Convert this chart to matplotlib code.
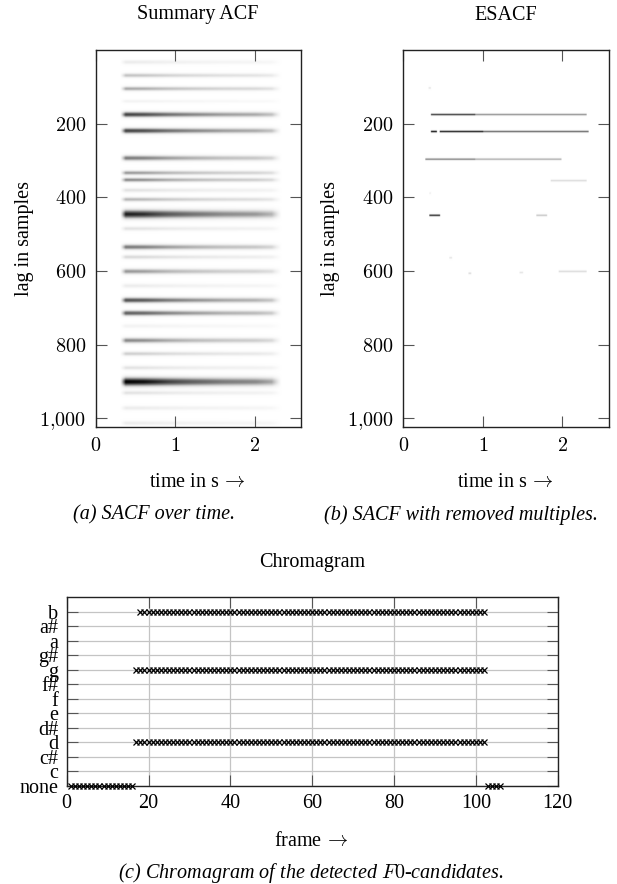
import numpy as np
import matplotlib
matplotlib.use("Agg")
import matplotlib.pyplot as plt
from matplotlib.ticker import FuncFormatter

plt.rcParams['font.family'] = ['Liberation Serif', 'DejaVu Serif']
plt.rcParams['mathtext.fontset'] = 'cm'
FS = 14.5

# Summary ACF: lag of each horizontal band, its darkness and width (in lags)
sacf_lags = [35, 71, 107, 141, 177, 221, 295, 335, 354, 382, 407, 447, 486,
             536, 563, 602, 641, 680, 715, 750, 789, 825, 863, 901, 931, 972, 1013]
sacf_level = [0.15, 0.35, 0.45, 0.1, 0.8, 0.8, 0.6, 0.5, 0.55, 0.2, 0.4, 0.9, 0.2,
              0.6, 0.25, 0.5, 0.15, 0.75, 0.7, 0.1, 0.55, 0.3, 0.2, 1.0, 0.2, 0.15, 0.15]
sacf_width = [4, 4, 4, 3, 5, 5, 5, 4, 4, 4, 4, 8, 4,
              5, 4, 5, 4, 5, 5, 4, 5, 4, 4, 8, 4, 4, 4]
# common fading of the bands over time
sacf_env_t = [0.30, 0.37, 0.6, 0.9, 1.2, 1.6, 2.0, 2.2, 2.32]
sacf_env_v = [0.0, 1.0, 0.95, 0.8, 0.7, 0.6, 0.55, 0.45, 0.0]

# ESACF: remaining line segments (lag, start s, end s, darkness)
esacf_lag = [105, 177, 177, 223, 223, 223, 298, 298, 356, 390, 450, 450, 565, 607, 605, 602]
esacf_t0 = [0.32, 0.35, 0.9, 0.35, 0.46, 1.0, 0.28, 0.9, 1.85, 0.33, 0.33, 1.67, 0.58, 0.82, 1.46, 1.95]
esacf_t1 = [0.35, 0.9, 2.3, 0.42, 1.0, 2.32, 0.9, 1.98, 2.3, 0.35, 0.46, 1.8, 0.61, 0.85, 1.5, 2.3]
esacf_level = [0.2, 0.85, 0.55, 1.0, 0.95, 0.7, 0.6, 0.45, 0.25, 0.15, 0.9, 0.35, 0.2, 0.25, 0.2, 0.25]

# Chromagram: detected chroma per frame, as runs
chroma_labels = ['none', 'c', 'c#', 'd', 'd#', 'e', 'f', 'f#', 'g', 'g#', 'a', 'a#', 'b']
run_note = ['none', 'd', 'g', 'b', 'none']
run_start = [1, 17, 17, 18, 103]
run_end = [16, 102, 102, 102, 106]

T_MAX = 2.58
N_LAG = 1024
t_grid = np.arange(0, T_MAX, 0.005)
lag_grid = np.arange(N_LAG)

# build the SACF picture
env = np.interp(t_grid, sacf_env_t, sacf_env_v, left=0, right=0)
sacf_img = np.zeros((N_LAG, len(t_grid)))
for lag, lev, w in zip(sacf_lags, sacf_level, sacf_width):
    prof = lev * np.exp(-0.5 * ((lag_grid - lag) / w) ** 2)
    sacf_img += prof[:, None] * env[None, :]

# build the ESACF picture
esacf_img = np.zeros((N_LAG, len(t_grid)))
for lag, t0, t1, lev in zip(esacf_lag, esacf_t0, esacf_t1, esacf_level):
    prof = lev * np.exp(-0.5 * ((lag_grid - lag) / 1.8) ** 2)
    on = ((t_grid >= t0) & (t_grid <= t1)).astype(float)
    esacf_img = np.maximum(esacf_img, prof[:, None] * on[None, :])

W, H = 617, 884
fig = plt.figure(figsize=(W / 100, H / 100), dpi=100)


def px_axes(x0, y0, x1, y1):
    return fig.add_axes([x0 / W, 1 - y1 / H, (x1 - x0) / W, (y1 - y0) / H])


def ftext(x, y, s, **kw):
    fig.text(x / W, 1 - y / H, s, ha='center', va='center', fontsize=FS, **kw)


def style_ticks(ax):
    ax.tick_params(direction='in', length=8, width=0.8, color='#555555',
                   top=True, right=True, labelsize=FS, pad=7)
    for s in ax.spines.values():
        s.set_linewidth(1.0)
        s.set_color('#222222')


cm_fmt = FuncFormatter(lambda v, p: r'$%s$' % f'{int(v):,}'.replace(',', '{,}'))

ax1 = px_axes(95.7, 50, 301, 427.3)
ax2 = px_axes(403.3, 50, 608.6, 427.3)
for ax, img in [(ax1, sacf_img), (ax2, esacf_img)]:
    ax.imshow(img, cmap='Greys', vmin=0, vmax=1, aspect='auto',
              extent=(0, T_MAX, N_LAG, 0), interpolation='bilinear')
    ax.set_xlim(0, T_MAX)
    ax.set_ylim(N_LAG, 0)
    ax.set_xticks([0, 1, 2])
    ax.set_yticks([200, 400, 600, 800, 1000])
    ax.xaxis.set_major_formatter(cm_fmt)
    ax.yaxis.set_major_formatter(cm_fmt)
    style_ticks(ax)

ftext(198, 15, 'Summary ACF')
ftext(506, 15, 'ESACF')
ftext(24, 238.6, 'lag in samples', rotation=90)
ftext(331, 238.6, 'lag in samples', rotation=90)
ftext(197, 483, r'time in s$\,\rightarrow$')
ftext(505, 483, r'time in s$\,\rightarrow$')
ftext(154, 515, '(a) SACF over time.', style='italic')
ftext(461, 515, '(b) SACF with removed multiples.', style='italic')

# chromagram
ax3 = px_axes(66.7, 597, 557.7, 786)
for note, a, b in zip(run_note, run_start, run_end):
    frames = np.arange(a, b + 1)
    yv = np.full(len(frames), chroma_labels.index(note))
    ax3.plot(frames, yv, 'x', color='black', ms=5, mew=0.9, clip_on=False, zorder=3)
ax3.set_xlim(0, 120)
ax3.set_ylim(0, 13)
ax3.set_xticks(range(0, 121, 20))
ax3.set_yticks(range(len(chroma_labels)))
ax3.set_yticklabels(chroma_labels)
ax3.grid(True, color='#c4c4c4', linewidth=0.9)
ax3.set_axisbelow(True)
style_ticks(ax3)
ax3.tick_params(pad=6)

ftext(312, 563, 'Chromagram')
ftext(311.5, 842, r'frame$\,\rightarrow$')
ftext(311, 873, r'(c) Chromagram of the detected $F0$-candidates.', style='italic')

fig.savefig('out.png', dpi=100)
